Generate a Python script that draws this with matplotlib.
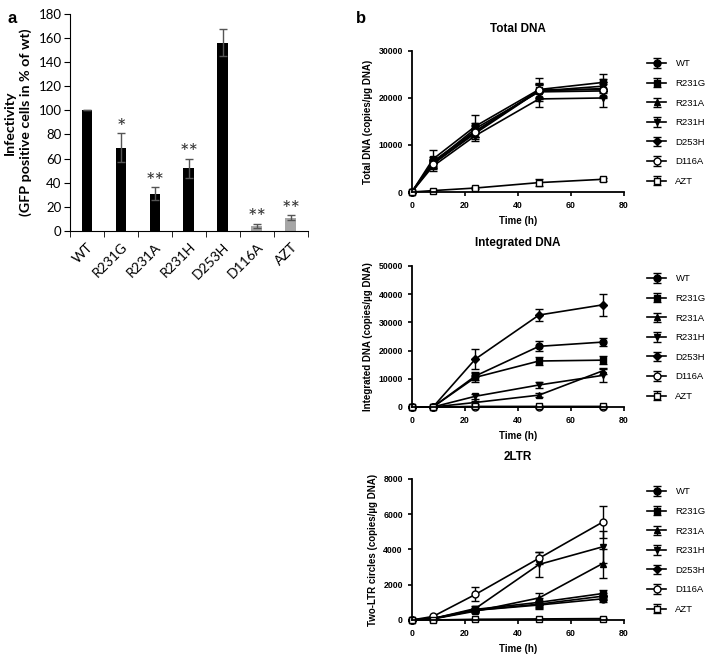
import numpy as np
import matplotlib.pyplot as plt

# Panel a: infectivity
strains = ['WT', 'R231G', 'R231A', 'R231H', 'D253H', 'D116A', 'AZT']
infect = [100, 69, 31, 52, 156, 4, 11]
infect_err = [0, 12, 5, 8, 11, 2, 2]
stars = ['', '*', '**', '**', '', '**', '**']
bar_cols = ['black', 'black', 'black', 'black', 'black', '#a6a6a6', '#a6a6a6']

# Panel b: time course
times = [0, 8, 24, 48, 72]
series = ['WT', 'R231G', 'R231A', 'R231H', 'D253H', 'D116A', 'AZT']
markers = ['o', 's', '^', 'v', 'D', 'o', 's']
filled = [True, True, True, True, True, False, False]

total = {
    'WT':    [0, 6500, 13000, 21500, 22000],
    'R231G': [0, 7000, 14000, 21800, 23300],
    'R231A': [0, 6000, 12500, 21500, 22500],
    'R231H': [0, 5500, 12000, 19800, 20000],
    'D253H': [0, 6200, 13500, 21300, 21500],
    'D116A': [0, 6000, 12800, 21700, 21800],
    'AZT':   [0, 300, 850, 2000, 2700],
}
total_err = {
    'WT':    [0, 1000, 1200, 1500, 1500],
    'R231G': [0, 2000, 2300, 2500, 1800],
    'R231A': [0, 800, 1200, 1500, 1500],
    'R231H': [0, 1000, 1200, 1800, 2000],
    'D253H': [0, 900, 1200, 1500, 1500],
    'D116A': [0, 900, 1200, 1500, 1500],
    'AZT':   [0, 150, 300, 700, 300],
}
integ = {
    'WT':    [0, 0, 11000, 21500, 23000],
    'R231G': [0, 0, 10500, 16300, 16600],
    'R231A': [0, 0, 1600, 4200, 12800],
    'R231H': [0, 0, 3800, 7800, 11200],
    'D253H': [0, 0, 17000, 32600, 36200],
    'D116A': [0, 0, 0, 0, 0],
    'AZT':   [0, 0, 200, 200, 200],
}
integ_err = {
    'WT':    [0, 0, 1500, 1800, 1500],
    'R231G': [0, 0, 1500, 1500, 1500],
    'R231A': [0, 0, 500, 600, 1000],
    'R231H': [0, 0, 800, 1200, 2200],
    'D253H': [0, 0, 3500, 2000, 3800],
    'D116A': [0, 0, 0, 0, 0],
    'AZT':   [0, 0, 100, 100, 100],
}
ltr = {
    'WT':    [0, 80, 550, 850, 1200],
    'R231G': [0, 80, 600, 1000, 1500],
    'R231A': [0, 60, 500, 1250, 3200],
    'R231H': [0, 80, 650, 3150, 4150],
    'D253H': [0, 70, 550, 900, 1350],
    'D116A': [0, 200, 1450, 3500, 5550],
    'AZT':   [0, 0, 40, 60, 80],
}
ltr_err = {
    'WT':    [0, 30, 100, 200, 200],
    'R231G': [0, 30, 100, 250, 200],
    'R231A': [0, 30, 100, 300, 800],
    'R231H': [0, 30, 150, 700, 900],
    'D253H': [0, 30, 100, 200, 200],
    'D116A': [0, 50, 400, 350, 900],
    'AZT':   [0, 0, 20, 20, 20],
}

fig = plt.figure(figsize=(7.1, 6.56), dpi=100)

# ---- panel a ----
axa = fig.add_axes([0.0986, 0.648, 0.335, 0.331])
x = np.arange(len(strains))
axa.bar(x, infect, width=0.32, color=bar_cols, zorder=2)
axa.errorbar(x, infect, yerr=infect_err, fmt='none', ecolor='#555555',
             elinewidth=1.0, capsize=3, zorder=3)
for xi, v, e, s in zip(x, infect, infect_err, stars):
    if s:
        axa.text(xi, v + e - 4, s, ha='center', va='bottom', fontsize=16,
                 color='#333333', family='Lato')
axa.set_xlim(-0.5, len(strains) - 0.5)
axa.set_ylim(0, 180)
axa.set_yticks(np.arange(0, 181, 20))
axa.set_xticks(x)
axa.set_xticklabels(strains, rotation=45, ha='right', rotation_mode='anchor',
                    family='Lato', fontsize=10)
axa.tick_params(axis='x', length=0, pad=7)
axa.set_xticks(np.arange(-0.5, len(strains), 1), minor=True)
axa.tick_params(axis='x', which='minor', length=4, direction='out')
for lab in axa.get_yticklabels():
    lab.set_family('Lato')
    lab.set_fontsize(9.5)
axa.tick_params(axis='y', length=4, pad=2)
axa.spines['top'].set_visible(False)
axa.spines['right'].set_visible(False)
axa.set_ylabel('Infectivity\n(GFP positive cells in % of wt)', fontsize=10.3,
               fontweight='bold', family='Lato', labelpad=5, linespacing=1.25)
fig.text(0.011, 0.983, 'a', fontsize=12, fontweight='bold', va='top', family='Liberation Sans')
fig.text(0.502, 0.983, 'b', fontsize=12, fontweight='bold', va='top', family='Liberation Sans')

# ---- panel b ----
panels = [
    ('Total DNA', total, total_err, 'Total DNA (copies/µg DNA)', 30000, 10000, 0.7073),
    ('Integrated DNA', integ, integ_err, 'Integrated DNA (copies/µg DNA)', 50000, 10000, 0.3796),
    ('2LTR', ltr, ltr_err, 'Two-LTR circles (copies/µg DNA)', 8000, 2000, 0.0549),
]
for title, data, err, ylab, ymax, ystep, bottom in panels:
    ax = fig.add_axes([0.580, bottom, 0.2986, 0.215])
    for name, m, f in zip(series, markers, filled):
        ms = 4 if m == 'D' else 5
        ax.errorbar(times, data[name], yerr=err[name], color='black', lw=1.2,
                    marker=m, ms=ms, mfc='black' if f else 'white', mec='black',
                    mew=1.0, capsize=3, elinewidth=1.0, label=name, clip_on=False)
    ax.set_xlim(0, 80)
    ax.set_ylim(0, ymax)
    ax.set_xticks([0, 20, 40, 60, 80])
    ax.set_yticks(np.arange(0, ymax + 1, ystep))
    ax.spines['top'].set_visible(False)
    ax.spines['right'].set_visible(False)
    ax.spines['left'].set_linewidth(1.3)
    ax.spines['bottom'].set_linewidth(1.3)
    ax.tick_params(length=3, width=1.2, labelsize=6.3)
    for lab in ax.get_xticklabels() + ax.get_yticklabels():
        lab.set_fontweight('bold')
        lab.set_family('Liberation Sans')
    ax.set_title(title, fontsize=8.5, fontweight='bold', family='Liberation Sans', pad=14)
    ax.set_xlabel('Time (h)', fontsize=7, fontweight='bold', family='Liberation Sans')
    ax.set_ylabel(ylab, fontsize=7, fontweight='bold', family='Liberation Sans')
    leg = ax.legend(loc='upper left', bbox_to_anchor=(1.07, 1.0), frameon=False,
                    prop={'family': 'Liberation Sans', 'size': 6.8},
                    handlelength=2.0, handletextpad=1.0, labelspacing=1.12)

fig.savefig('out.png', dpi=100)
